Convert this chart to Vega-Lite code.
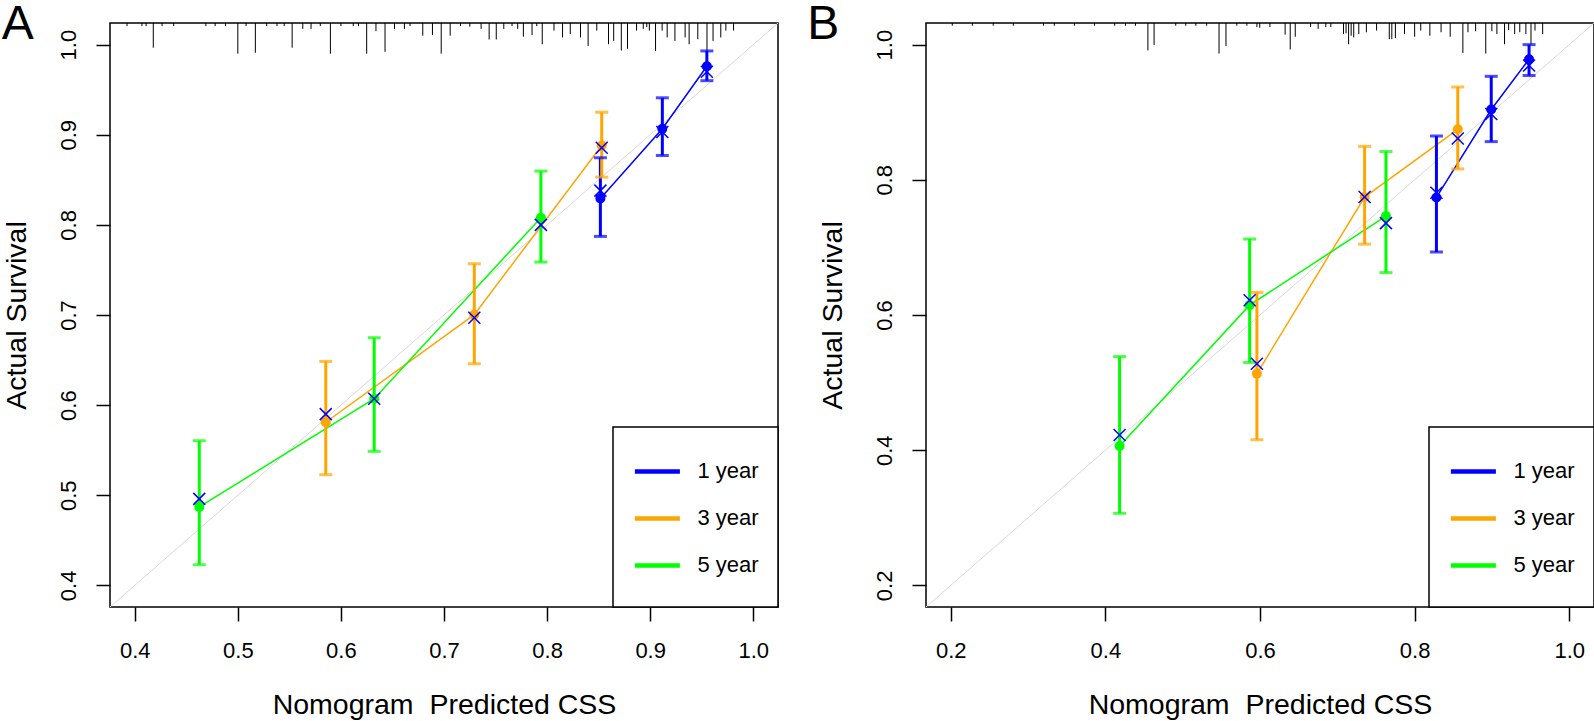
{
"$schema": "https://vega.github.io/schema/vega-lite/v6.json",
"padding": 0,
"background": "white",
"datasets": {
"calA": [
{"series":"1 year","x":0.8517,"y":0.8294,"lo":0.7872,"hi":0.8745,"bc":0.838},
{"series":"1 year","x":0.9118,"y":0.9067,"lo":0.877,"hi":0.941,"bc":0.903},
{"series":"1 year","x":0.955,"y":0.976,"lo":0.960,"hi":0.993,"bc":0.970},
{"series":"3 year","x":0.5853,"y":0.581,"lo":0.5228,"hi":0.6485,"bc":0.590},
{"series":"3 year","x":0.7294,"y":0.7003,"lo":0.6459,"hi":0.7569,"bc":0.697},
{"series":"3 year","x":0.853,"y":0.888,"lo":0.853,"hi":0.925,"bc":0.8856},
{"series":"5 year","x":0.4626,"y":0.487,"lo":0.4229,"hi":0.5605,"bc":0.496},
{"series":"5 year","x":0.6323,"y":0.6071,"lo":0.5487,"hi":0.6748,"bc":0.607},
{"series":"5 year","x":0.794,"y":0.808,"lo":0.7587,"hi":0.8597,"bc":0.800}
],
"calB": [
{"series":"1 year","x":0.8282,"y":0.7739,"lo":0.6931,"hi":0.8647,"bc":0.781},
{"series":"1 year","x":0.8991,"y":0.904,"lo":0.8565,"hi":0.9531,"bc":0.8975},
{"series":"1 year","x":0.948,"y":0.9783,"lo":0.9543,"hi":1.0,"bc":0.969},
{"series":"3 year","x":0.596,"y":0.5133,"lo":0.4155,"hi":0.6334,"bc":0.528},
{"series":"3 year","x":0.7353,"y":0.7745,"lo":0.7048,"hi":0.8495,"bc":0.7745},
{"series":"3 year","x":0.8558,"y":0.8747,"lo":0.8161,"hi":0.9373,"bc":0.8612},
{"series":"5 year","x":0.4184,"y":0.4061,"lo":0.3066,"hi":0.5385,"bc":0.4225},
{"series":"5 year","x":0.5866,"y":0.6146,"lo":0.5297,"hi":0.7124,"bc":0.6217},
{"series":"5 year","x":0.7629,"y":0.7464,"lo":0.6627,"hi":0.8419,"bc":0.7359}
],
"diagA": [{"x":0.376,"y":0.376,"x2":1.024,"y2":1.024}],
"diagB": [{"x":0.168,"y":0.168,"x2":1.032,"y2":1.032}],
"labA": [{"label":"A","x":0.2709,"y":1.0062}],
"labB": [{"label":"B","x":0.0143,"y":1.0083}],
"rugA": [
{"x":0.3925,"y":1.0205},{"x":0.407,"y":1.0205},{"x":0.411,"y":1.0205},{"x":0.4265,"y":1.0205},{"x":0.4378,"y":1.0205},
{"x":0.469,"y":1.0205},{"x":0.478,"y":1.0205},{"x":0.488,"y":1.0205},{"x":0.508,"y":1.0205},{"x":0.528,"y":1.0205},
{"x":0.538,"y":1.0205},{"x":0.545,"y":1.0205},{"x":0.580,"y":1.0205},{"x":0.600,"y":1.0205},{"x":0.612,"y":1.0205},
{"x":0.617,"y":1.0205},{"x":0.667,"y":1.0205},{"x":0.716,"y":1.0205},{"x":0.766,"y":1.0205},{"x":0.790,"y":1.0205},
{"x":0.418,"y":0.9966},{"x":0.500,"y":0.990},{"x":0.517,"y":0.991},{"x":0.5527,"y":0.9966},{"x":0.563,"y":1.0175},
{"x":0.571,"y":1.0175},{"x":0.5898,"y":0.990},{"x":0.625,"y":0.990},{"x":0.634,"y":1.0149},{"x":0.6428,"y":0.992},
{"x":0.652,"y":1.0175},{"x":0.6616,"y":1.0175},{"x":0.6794,"y":1.0099},{"x":0.6888,"y":1.0107},{"x":0.6973,"y":0.990},
{"x":0.706,"y":1.0099},{"x":0.725,"y":1.020},{"x":0.736,"y":1.0175},{"x":0.7438,"y":1.0057},{"x":0.7507,"y":1.0057},
{"x":0.758,"y":1.0175},{"x":0.7715,"y":1.0175},{"x":0.777,"y":1.0088},{"x":0.7854,"y":1.0107},{"x":0.7953,"y":1.0004},
{"x":0.8067,"y":1.0156},{"x":0.815,"y":1.008},{"x":0.8225,"y":1.0118},{"x":0.8324,"y":1.008},{"x":0.8398,"y":0.9985},
{"x":0.8482,"y":1.0156},{"x":0.8596,"y":1.0004},{"x":0.8646,"y":1.0042},{"x":0.872,"y":0.9935},{"x":0.878,"y":0.9954},
{"x":0.8868,"y":1.0156},{"x":0.8933,"y":1.0175},{"x":0.8967,"y":1.0194},{"x":0.8992,"y":1.0156},{"x":0.9052,"y":0.9928},
{"x":0.9116,"y":1.0156},{"x":0.9165,"y":1.008},{"x":0.924,"y":1.0042},{"x":0.9339,"y":1.008},{"x":0.9378,"y":1.0004},
{"x":0.9462,"y":1.006},{"x":0.9551,"y":0.9909},{"x":0.961,"y":1.0042},{"x":0.9685,"y":1.008},{"x":0.9734,"y":1.0156},
{"x":0.9809,"y":1.0156}
],
"rugB": [
{"x":0.202,"y":1.028},{"x":0.228,"y":1.028},{"x":0.255,"y":1.028},{"x":0.281,"y":1.028},{"x":0.320,"y":1.028},
{"x":0.334,"y":1.028},{"x":0.360,"y":1.028},{"x":0.386,"y":1.028},{"x":0.412,"y":1.028},{"x":0.426,"y":1.028},
{"x":0.439,"y":1.028},{"x":0.491,"y":1.028},{"x":0.504,"y":1.028},{"x":0.517,"y":1.028},{"x":0.531,"y":1.028},
{"x":0.570,"y":1.028},{"x":0.583,"y":1.028},
{"x":0.455,"y":0.9914},{"x":0.463,"y":0.9995},{"x":0.547,"y":0.9868},{"x":0.556,"y":0.998},{"x":0.596,"y":1.0259},
{"x":0.5997,"y":1.0249},{"x":0.6128,"y":1.0259},{"x":0.6325,"y":1.0147},{"x":0.6391,"y":0.9929},{"x":0.6456,"y":1.0117},
{"x":0.6654,"y":1.0259},{"x":0.6752,"y":1.0234},{"x":0.6851,"y":1.0259},{"x":0.6916,"y":1.0259},{"x":0.708,"y":1.0157},
{"x":0.7113,"y":1.0168},{"x":0.7146,"y":1.0005},{"x":0.7179,"y":1.0132},{"x":0.7212,"y":1.0107},{"x":0.7278,"y":1.0157},
{"x":0.7376,"y":1.0183},{"x":0.7508,"y":1.0208},{"x":0.7672,"y":1.0081},{"x":0.7705,"y":1.0081},{"x":0.7751,"y":1.0096},
{"x":0.7869,"y":1.0157},{"x":0.800,"y":1.0117},{"x":0.8079,"y":1.0208},{"x":0.8197,"y":1.0132},{"x":0.8342,"y":1.0183},
{"x":0.846,"y":1.0117},{"x":0.8624,"y":0.9878},{"x":0.869,"y":1.0183},{"x":0.8789,"y":1.0198},{"x":0.892,"y":0.9868},
{"x":0.8999,"y":1.0198},{"x":0.9064,"y":1.0157},{"x":0.9163,"y":1.0005},{"x":0.9216,"y":1.0218},{"x":0.9294,"y":1.0157},
{"x":0.936,"y":1.0183},{"x":0.9439,"y":1.0157},{"x":0.9505,"y":1.0005},{"x":0.9557,"y":1.0208},{"x":0.9656,"y":1.0157}
]
},
"spacing": 148,
"bounds": "flush",
"resolve": {"scale": {"x": "independent", "y": "independent", "stroke": "independent", "fill": "independent"}, "legend": {"stroke": "independent"}},
"hconcat": [
{
"width": 668, "height": 584,
"encoding": {
"x": {"field": "x", "type": "quantitative", "scale": {"domain": [0.376, 1.024], "nice": false, "zero": false}, "axis": {"title": "Nomogram\u00a0\u00a0Predicted CSS", "values": [0.4,0.5,0.6,0.7,0.8,0.9,1.0], "format": ".1f"}},
"y": {"field": "y", "type": "quantitative", "scale": {"domain": [0.376, 1.024], "nice": false, "zero": false}, "axis": {"title": "Actual Survival", "values": [0.4,0.5,0.6,0.7,0.8,0.9,1.0], "format": ".1f"}}
},
"layer": [
{"data": {"name": "diagA"}, "mark": {"type": "rule", "color": "#d9d9d9", "strokeWidth": 1}, "encoding": {"x2": {"field": "x2"}, "y2": {"field": "y2"}}},
{"data": {"name": "rugA"}, "mark": {"type": "rule", "color": "black", "strokeWidth": 1}, "encoding": {"y2": {"datum": 1.024}}},
{"data": {"name": "calA"}, "mark": {"type": "line", "strokeWidth": 1.5}, "encoding": {"stroke": {"field": "series", "type": "nominal", "scale": {"domain": ["1 year","3 year","5 year"], "range": ["#0000ff","#ffa500","#00ff00"]}, "legend": {"title": null}}, "order": {"field": "x"}}},
{"data": {"name": "calA"}, "mark": {"type": "rule", "strokeWidth": 3}, "encoding": {"y": {"field": "lo", "type": "quantitative", "title": "Actual Survival"}, "y2": {"field": "hi"}, "stroke": {"field": "series", "type": "nominal", "legend": {"title": null}}}},
{"data": {"name": "calA"}, "mark": {"type": "tick", "orient": "horizontal", "size": 13, "thickness": 3}, "encoding": {"y": {"field": "lo", "type": "quantitative", "title": "Actual Survival"}, "fill": {"field": "series", "type": "nominal", "scale": {"domain": ["1 year","3 year","5 year"], "range": ["#0000ff","#ffa500","#00ff00"]}, "legend": null}}},
{"data": {"name": "calA"}, "mark": {"type": "tick", "orient": "horizontal", "size": 13, "thickness": 3}, "encoding": {"y": {"field": "hi", "type": "quantitative", "title": "Actual Survival"}, "fill": {"field": "series", "type": "nominal", "legend": null}}},
{"data": {"name": "calA"}, "mark": {"type": "point", "shape": "circle", "filled": true, "size": 100, "opacity": 1}, "encoding": {"fill": {"field": "series", "type": "nominal", "legend": null}}},
{"data": {"name": "calA"}, "mark": {"type": "point", "shape": "M-1,-1L1,1M-1,1L1,-1", "filled": false, "size": 144, "stroke": "#0000ff", "strokeWidth": 1.5, "opacity": 1}, "encoding": {"y": {"field": "bc", "type": "quantitative", "title": "Actual Survival"}}},
{"data": {"name": "labA"}, "mark": {"type": "text", "fontSize": 48, "align": "left", "baseline": "alphabetic", "font": "Liberation Sans", "color": "black"}, "encoding": {"text": {"field": "label", "type": "nominal"}}}
]
},
{
"width": 668, "height": 584,
"encoding": {
"x": {"field": "x", "type": "quantitative", "scale": {"domain": [0.168, 1.032], "nice": false, "zero": false}, "axis": {"title": "Nomogram\u00a0\u00a0Predicted CSS", "values": [0.2,0.4,0.6,0.8,1.0], "format": ".1f"}},
"y": {"field": "y", "type": "quantitative", "scale": {"domain": [0.168, 1.032], "nice": false, "zero": false}, "axis": {"title": "Actual Survival", "values": [0.2,0.4,0.6,0.8,1.0], "format": ".1f"}}
},
"layer": [
{"data": {"name": "diagB"}, "mark": {"type": "rule", "color": "#d9d9d9", "strokeWidth": 1}, "encoding": {"x2": {"field": "x2"}, "y2": {"field": "y2"}}},
{"data": {"name": "rugB"}, "mark": {"type": "rule", "color": "black", "strokeWidth": 1}, "encoding": {"y2": {"datum": 1.032}}},
{"data": {"name": "calB"}, "mark": {"type": "line", "strokeWidth": 1.5}, "encoding": {"stroke": {"field": "series", "type": "nominal", "scale": {"domain": ["1 year","3 year","5 year"], "range": ["#0000ff","#ffa500","#00ff00"]}, "legend": {"title": null}}, "order": {"field": "x"}}},
{"data": {"name": "calB"}, "mark": {"type": "rule", "strokeWidth": 3}, "encoding": {"y": {"field": "lo", "type": "quantitative", "title": "Actual Survival"}, "y2": {"field": "hi"}, "stroke": {"field": "series", "type": "nominal", "legend": {"title": null}}}},
{"data": {"name": "calB"}, "mark": {"type": "tick", "orient": "horizontal", "size": 13, "thickness": 3}, "encoding": {"y": {"field": "lo", "type": "quantitative", "title": "Actual Survival"}, "fill": {"field": "series", "type": "nominal", "scale": {"domain": ["1 year","3 year","5 year"], "range": ["#0000ff","#ffa500","#00ff00"]}, "legend": null}}},
{"data": {"name": "calB"}, "mark": {"type": "tick", "orient": "horizontal", "size": 13, "thickness": 3}, "encoding": {"y": {"field": "hi", "type": "quantitative", "title": "Actual Survival"}, "fill": {"field": "series", "type": "nominal", "legend": null}}},
{"data": {"name": "calB"}, "mark": {"type": "point", "shape": "circle", "filled": true, "size": 100, "opacity": 1}, "encoding": {"fill": {"field": "series", "type": "nominal", "legend": null}}},
{"data": {"name": "calB"}, "mark": {"type": "point", "shape": "M-1,-1L1,1M-1,1L1,-1", "filled": false, "size": 144, "stroke": "#0000ff", "strokeWidth": 1.5, "opacity": 1}, "encoding": {"y": {"field": "bc", "type": "quantitative", "title": "Actual Survival"}}},
{"data": {"name": "labB"}, "mark": {"type": "text", "fontSize": 48, "align": "left", "baseline": "alphabetic", "font": "Liberation Sans", "color": "black"}, "encoding": {"text": {"field": "label", "type": "nominal"}}}
]
}
],
"config": {
"font": "Liberation Sans",
"view": {"stroke": "black", "strokeWidth": 1.5},
"axis": {"domain": false, "grid": false, "ticks": true, "tickColor": "black", "tickWidth": 1.5, "tickSize": 14, "labelFont": "Liberation Sans", "labelFontSize": 22, "labelColor": "black", "labelOverlap": false, "labelFlush": false, "titleFont": "Liberation Sans", "titleFontSize": 28.5, "titleFontWeight": "normal", "titleColor": "black"},
"axisX": {"labelPadding": 36.5, "labelBaseline": "alphabetic", "labelAngle": 0, "labelAlign": "center", "titleX": 334, "titleY": 106.6, "titleBaseline": "alphabetic", "titleAlign": "center", "titleAngle": 0},
"axisY": {"labelAngle": -90, "labelAlign": "center", "labelBaseline": "alphabetic", "labelPadding": 21, "titleX": -85, "titleY": 292, "titleAngle": -90, "titleAlign": "center", "titleBaseline": "alphabetic"},
"legend": {"orient": "bottom-right", "offset": 0, "strokeColor": "black", "strokeWidth": 1.5, "fillColor": "white", "padding": 19.4, "symbolType": "M-1,0L1,0M1,0.556", "symbolSize": 2025, "symbolStrokeWidth": 4.5, "labelFontSize": 22, "labelFont": "Liberation Sans", "labelColor": "black", "labelOffset": 15, "rowPadding": 0}
}
}
